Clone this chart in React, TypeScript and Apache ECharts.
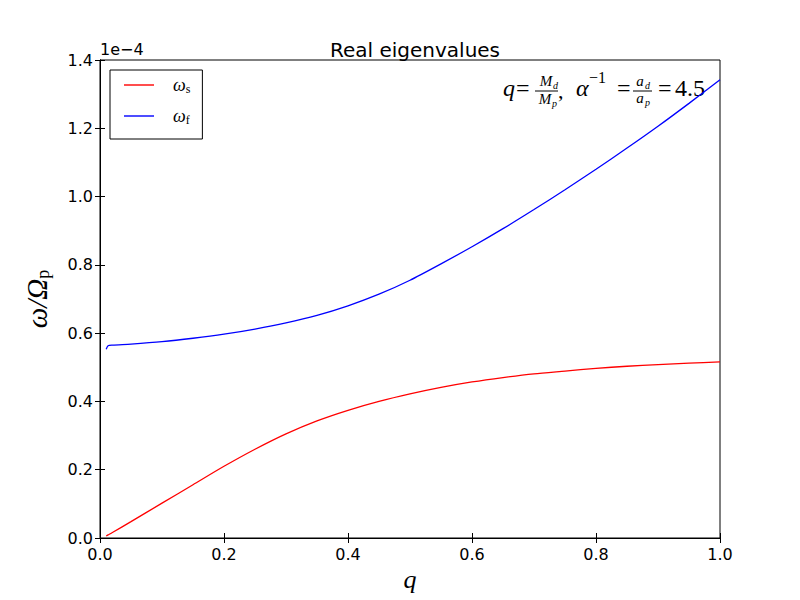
import React, { useEffect, useRef } from "react";
import * as echarts from "echarts";

// mass ratio q
const qValues = [0.01, 0.013, 0.02, 0.05, 0.1, 0.15, 0.2, 0.25, 0.3, 0.35, 0.4, 0.45, 0.5, 0.55, 0.6, 0.65, 0.7, 0.75, 0.8, 0.85, 0.9, 0.95, 1.0];
// slow eigenvalue omega_s (units of 1e-4)
const omegaS = [0.006, 0.009, 0.016, 0.048, 0.102, 0.156, 0.21, 0.26, 0.305, 0.343, 0.374, 0.4, 0.422, 0.441, 0.457, 0.47, 0.481, 0.489, 0.497, 0.503, 0.508, 0.512, 0.516];
// fast eigenvalue omega_f (units of 1e-4)
const omegaF = [0.553, 0.563, 0.565, 0.568, 0.575, 0.585, 0.597, 0.612, 0.63, 0.652, 0.68, 0.714, 0.755, 0.803, 0.853, 0.906, 0.962, 1.02, 1.08, 1.142, 1.206, 1.273, 1.342];

const xTicks = { min: 0, max: 1, interval: 0.2 };
const yTicks = { min: 0, max: 1.4, interval: 0.2 };

const SANS = "DejaVu Sans";
const SERIF = "Liberation Serif";

export default function App() {
  const ref = useRef<HTMLDivElement>(null);
  useEffect(() => {
    if (!ref.current) return;
    const chart = echarts.init(ref.current, null, { renderer: "svg" });
    const serS = qValues.map((q, i) => [q, omegaS[i]]);
    const serF = qValues.map((q, i) => [q, omegaF[i]]);
    const tickStyle = { show: true, inside: true, length: 5, lineStyle: { color: "#000", width: 1 } };
    const mathText = (x: number, y: number, text: string, size: number, italic = true, align = "left") => ({
      type: "text",
      x,
      y,
      style: {
        text,
        fontFamily: SERIF,
        fontStyle: italic ? "italic" : "normal",
        fontSize: size,
        fill: "#000",
        align,
        verticalAlign: "middle",
      },
    });
    chart.setOption({
      animation: false,
      backgroundColor: "#fff",
      title: {
        text: "Real eigenvalues",
        left: 410,
        top: 35,
        textAlign: "center",
        textStyle: { fontFamily: SANS, fontSize: 20, fontWeight: "normal", color: "#000" },
      },
      grid: { left: 100, right: 80, top: 60, bottom: 62, show: true, borderColor: "#000", borderWidth: 1, backgroundColor: "transparent" },
      legend: {
        left: 110,
        top: 70,
        orient: "vertical",
        borderColor: "#000",
        borderWidth: 1,
        borderRadius: 0,
        padding: [6, 12, 13, 14],
        icon: "rect",
        itemWidth: 30,
        itemHeight: 1.4,
        itemGap: 12,
        data: ["ωs", "ωf"],
        formatter: (name: string) => `{w|${name[0]}}{s|${name.slice(1)}}`,
        textStyle: {
          color: "#000",
          rich: {
            w: { fontFamily: SERIF, fontStyle: "italic", fontSize: 18, color: "#000", padding: [0, 0, 0, 14] },
            s: { fontFamily: SERIF, fontSize: 12, color: "#000", padding: [8, 0, 0, 0] },
          },
        },
      },
      xAxis: [
        {
          type: "value",
          ...xTicks,
          position: "bottom",
          axisLine: { show: true, lineStyle: { color: "#000" } },
          axisTick: tickStyle,
          splitLine: { show: false },
          axisLabel: { fontFamily: SANS, fontSize: 16, color: "#000", margin: 8, formatter: (v: number) => v.toFixed(1) },
          name: "q",
          nameLocation: "middle",
          nameGap: 26,
          nameTextStyle: { fontFamily: SERIF, fontStyle: "italic", fontSize: 26, color: "#000" },
        },
        {
          type: "value",
          ...xTicks,
          position: "top",
          axisLine: { show: true, lineStyle: { color: "#000" } },
          axisTick: tickStyle,
          splitLine: { show: false },
          axisLabel: { show: false },
        },
      ],
      yAxis: [
        {
          type: "value",
          ...yTicks,
          position: "left",
          axisLine: { show: true, lineStyle: { color: "#000" } },
          axisTick: tickStyle,
          splitLine: { show: false },
          axisLabel: { fontFamily: SANS, fontSize: 16, color: "#000", margin: 7, formatter: (v: number) => v.toFixed(1) },
          name: "{a|ω/Ω}{b|p}",
          nameLocation: "middle",
          nameGap: 48,
          nameTextStyle: {
            rich: {
              a: { fontFamily: SERIF, fontStyle: "italic", fontSize: 29, color: "#000" },
              b: { fontFamily: SERIF, fontSize: 18, color: "#000", padding: [12, 0, 0, 0] },
            },
          },
        },
        {
          type: "value",
          ...yTicks,
          position: "right",
          axisLine: { show: true, lineStyle: { color: "#000" } },
          axisTick: tickStyle,
          splitLine: { show: false },
          axisLabel: { show: false },
        },
      ],
      series: [
        { name: "ωs", type: "line", data: serS, showSymbol: false, symbol: "none", smooth: 0.25, lineStyle: { color: "#ff0000", width: 1.3 }, itemStyle: { color: "#ff0000" } },
        { name: "ωf", type: "line", data: serF, showSymbol: false, symbol: "none", smooth: 0.25, lineStyle: { color: "#0000ff", width: 1.3 }, itemStyle: { color: "#0000ff" } },
      ],
      graphic: [
        {
          type: "text",
          left: 100,
          top: 41,
          style: { text: "1e\u22124", fontFamily: SANS, fontSize: 16, fill: "#000" },
        },
        {
          type: "group",
          children: [
            mathText(503, 88, "q", 24),
            mathText(516, 88, "=", 24, false),
            mathText(546, 81, "M", 15, true, "center"),
            mathText(553, 85, "d", 10, true),
            { type: "line", shape: { x1: 535, y1: 91, x2: 558, y2: 91 }, style: { stroke: "#000", lineWidth: 1 } },
            mathText(545, 99, "M", 15, true, "center"),
            mathText(552, 103, "p", 10, true),
            mathText(558, 90, ",", 22, false),
            mathText(576, 88, "α", 24),
            mathText(589, 77, "\u22121", 16, false),
            mathText(617, 88, "=", 24, false),
            mathText(640, 81, "a", 15, true, "center"),
            mathText(645, 85, "d", 10, true),
            { type: "line", shape: { x1: 633, y1: 91, x2: 652, y2: 91 }, style: { stroke: "#000", lineWidth: 1 } },
            mathText(640, 98, "a", 15, true, "center"),
            mathText(645, 102, "p", 10, true),
            mathText(658, 88, "=", 24, false),
            mathText(675, 88, "4.5", 24, false),
          ],
        },
      ],
    });
    return () => chart.dispose();
  }, []);
  return <div ref={ref} style={{ position: "absolute", left: 0, top: 0, width: 800, height: 600 }} />;
}
